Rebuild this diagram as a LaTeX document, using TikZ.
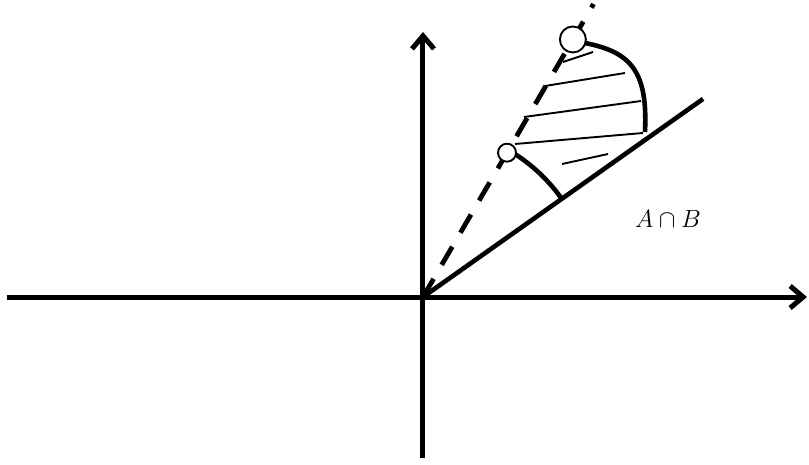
\documentclass[tikz,border=0pt]{standalone}
\usetikzlibrary{arrows.meta,calc}
\tikzset{
  axisline/.style={line width=5pt,-{Straight Barb[length=13pt,width=22pt]}},
  rayline/.style={line width=4.6pt},
  dashray/.style={line width=4.8pt,dash pattern=on 21pt off 16.2pt},
  arcline/.style={line width=4.6pt},
  hatchline/.style={line width=1.9pt},
  hole/.style={circle,draw,line width=1.9pt,fill=white,inner sep=0pt},
}
\begin{document}
\begin{tikzpicture}[x=1pt,y=1pt]
\useasboundingbox (-423,-167) rectangle (386,297);
\coordinate (O) at (0,0);
\coordinate (xl) at (-416,0);
\coordinate (xr) at (384,0);
\coordinate (yb) at (0,-161);
\coordinate (yt) at (0,265);
\coordinate (S) at (35.27:343);
\coordinate (D) at (59.8:339);
% axes
\draw[axisline] (xl) -- (xr);
\draw[axisline] (yb) -- (yt);
% rays
\draw[dashray] (O) -- (D);
\draw[rayline] (O) -- (S);
% hatching
\coordinate (h1a) at (140,235); \coordinate (h1b) at (170,245);
\coordinate (h2a) at (122,211); \coordinate (h2b) at (202,224);
\coordinate (h3a) at (101,180); \coordinate (h3b) at (218,196);
\coordinate (h4a) at (92,153);  \coordinate (h4b) at (220,164);
\coordinate (h5a) at (139,133); \coordinate (h5b) at (185,143);
\draw[hatchline] (h1a) -- (h1b);
\draw[hatchline] (h2a) -- (h2b);
\draw[hatchline] (h3a) -- (h3b);
\draw[hatchline] (h4a) -- (h4b);
\draw[hatchline] (h5a) -- (h5b);
% arcs
\coordinate (sa) at (58.5:170);
\draw[arcline] (sa) arc[start angle=58.5,end angle=35.3,radius=170];
\coordinate (ba) at (162,254);
\coordinate (bb) at (222,165);
\draw[arcline] (ba) .. controls (207,245) and (225,227) .. (bb);
% open points
\node[hole,minimum size=18pt] (c1) at (59.8:167) {};
\node[hole,minimum size=26pt] (c2) at (59.8:298) {};
% label
\node[font=\fontsize{27}{31}\selectfont] (lab) at (245,78) {$A\cap B$};
\end{tikzpicture}
\end{document}
